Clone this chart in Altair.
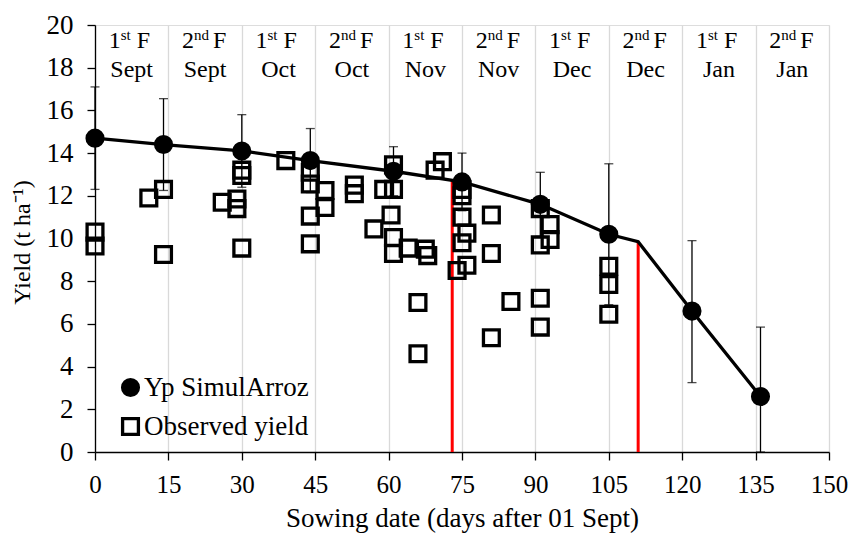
import altair as alt
import pandas as pd

FONT = "'Liberation Serif', 'Times New Roman', Times, serif"

# Simulated potential yield (Yp SimulArroz)
sim_x = [0, 14, 30, 44, 61, 75, 91, 105, 122, 136]
sim_y = [14.7, 14.4, 14.1, 13.65, 13.15, 12.65, 11.6, 10.2, 6.6, 2.6]
err_lo = [12.3, 12.25, 12.4, 12.15, 12.0, 11.3, 10.1, 6.9, 3.25, 0.0]
err_hi = [17.1, 16.55, 15.8, 15.15, 14.3, 14.0, 13.1, 13.5, 9.9, 5.85]

# Simulated line (with break point)
line_x = [0, 14, 30, 44, 61, 75, 91, 105, 111, 122, 136]
line_y = [14.7, 14.4, 14.1, 13.65, 13.15, 12.65, 11.6, 10.2, 9.85, 6.6, 2.6]

# Observed yield
obs_x = [0, 0, 11, 14, 14, 26, 29, 29, 30, 30, 30, 39,
         44, 44, 44, 44, 47, 47, 53, 53, 57, 59, 61, 61, 60.5, 61, 61,
         64, 67.5, 68, 66, 66, 69.5, 71,
         74, 76, 76, 75, 75, 75, 75,
         81, 81, 81, 85, 91, 91, 91, 91, 93, 93, 105, 105, 105]
obs_y = [10.3, 9.65, 11.9, 12.3, 9.25, 11.7, 11.85, 11.4, 13.2, 12.95, 9.55, 13.65,
         13.1, 12.55, 11.05, 9.75, 12.25, 11.45, 12.5, 12.1, 10.45, 12.3, 13.45, 12.3, 11.1, 10.05, 9.3,
         9.55, 9.5, 9.2, 7.0, 4.6, 13.2, 13.6,
         8.5, 8.75, 10.25, 12.3, 12.0, 11.0, 9.8,
         11.1, 9.3, 5.35, 7.05, 11.4, 9.7, 7.2, 5.85, 10.65, 9.95, 8.7, 7.85, 6.45]

# Red limit lines
red_x = [73, 111]
red_top = [12.75, 9.85]

# Fortnight labels
lab_mid = [7.5, 22.5, 37.5, 52.5, 67.5, 82.5, 97.5, 112.5, 127.5, 142.5]
lab_num = ["1", "2"] * 5
lab_sup = ["st", "nd"] * 5
lab_month = ["Sept", "Sept", "Oct", "Oct", "Nov", "Nov", "Dec", "Dec", "Jan", "Jan"]

series_names = ["Yp SimulArroz", "Observed yield"]

obs = pd.DataFrame({"x": obs_x, "y": obs_y, "series": series_names[1]})
sim = pd.DataFrame({"x": sim_x, "y": sim_y, "series": series_names[0]})
pts = pd.concat([obs, sim], ignore_index=True)
err = pd.DataFrame({"x": sim_x, "lo": err_lo, "hi": err_hi})
line = pd.DataFrame({"x": line_x, "y": line_y})
red = pd.DataFrame({"x": red_x, "top": red_top, "bottom": [0, 0]})
labs = pd.DataFrame({"mid": lab_mid, "num": lab_num, "sup": lab_sup, "month": lab_month})

xscale = alt.Scale(domain=[0, 150], nice=False, zero=False)
yscale = alt.Scale(domain=[0, 20], nice=False)

xaxis = alt.Axis(values=list(range(0, 151, 15)), title="Sowing date (days after 01 Sept)",
                 grid=True, gridColor="#D9D9D9", gridWidth=1.3,
                 domainColor="black", domainWidth=1.3, tickColor="black", tickWidth=1.3, tickSize=8,
                 labelFont=FONT, labelFontSize=25, labelColor="black", labelPadding=12,
                 labelFlush=False, labelOverlap=False,
                 titleFont=FONT, titleFontSize=27, titleFontWeight="normal", titleColor="black",
                 titleBaseline="alphabetic", titleY=74)
yaxis = alt.Axis(values=list(range(0, 21, 2)), title="Yield (t ha⁻¹)", grid=False,
                 domainColor="black", domainWidth=1.3, tickColor="black", tickWidth=1.3, tickSize=8,
                 labelFont=FONT, labelFontSize=27, labelColor="black", labelPadding=14,
                 labelFlush=False, labelOverlap=False,
                 titleFont=FONT, titleFontSize=24, titleFontWeight="normal", titleColor="black",
                 titleAngle=270, titleBaseline="alphabetic", titleX=-66, titleY=217)

red_layer = alt.Chart(red).mark_rule(color="#FF0000", strokeWidth=3).encode(
    x=alt.X("x:Q", scale=xscale, axis=xaxis),
    y=alt.Y("bottom:Q", scale=yscale, axis=yaxis),
    y2="top:Q",
)

err_rule = alt.Chart(err).mark_rule(color="black", strokeWidth=1.3).encode(
    x=alt.X("x:Q", scale=xscale), y=alt.Y("lo:Q", scale=yscale), y2="hi:Q")
cap_hi = alt.Chart(err).mark_tick(color="black", thickness=1.3, size=9, orient="horizontal").encode(
    x=alt.X("x:Q", scale=xscale), y=alt.Y("hi:Q", scale=yscale))
cap_lo = alt.Chart(err).mark_tick(color="black", thickness=1.3, size=9, orient="horizontal").encode(
    x=alt.X("x:Q", scale=xscale), y=alt.Y("lo:Q", scale=yscale))

line_layer = alt.Chart(line).mark_line(color="black", strokeWidth=3.3).encode(
    x=alt.X("x:Q", scale=xscale), y=alt.Y("y:Q", scale=yscale))

leg = alt.Legend(title=None, orient="none", legendX=22, legendY=349,
                 labelFont=FONT, labelFontSize=27, labelColor="black", labelOffset=0,
                 symbolSize=250, symbolStrokeWidth=3.3,
                 rowPadding=8, labelLimit=400)

pt_layer = alt.Chart(pts).mark_point(strokeWidth=3.3, size=250, opacity=1).encode(
    x=alt.X("x:Q", scale=xscale),
    y=alt.Y("y:Q", scale=yscale),
    shape=alt.Shape("series:N", scale=alt.Scale(domain=series_names, range=["circle", "square"]), legend=leg),
    fill=alt.Fill("series:N", scale=alt.Scale(domain=series_names, range=["black", "transparent"]), legend=leg),
    stroke=alt.Stroke("series:N", scale=alt.Scale(domain=series_names, range=["black", "black"]), legend=leg),
)

num_layer = alt.Chart(labs).mark_text(font=FONT, fontSize=24, color="black", align="right",
                                      baseline="alphabetic", dx=-11).encode(
    x=alt.X("mid:Q", scale=xscale), y=alt.value(23), text="num:N")
sup_layer = alt.Chart(labs).mark_text(font=FONT, fontSize=15, color="black", align="left",
                                      baseline="alphabetic", dx=-11).encode(
    x=alt.X("mid:Q", scale=xscale), y=alt.value(15), text="sup:N")
f_st = alt.Chart(labs).transform_filter(alt.datum.sup == "st").mark_text(
    font=FONT, fontSize=24, color="black", align="left", baseline="alphabetic", dx=5).encode(
    x=alt.X("mid:Q", scale=xscale), y=alt.value(23), text=alt.value("F"))
f_nd = alt.Chart(labs).transform_filter(alt.datum.sup == "nd").mark_text(
    font=FONT, fontSize=24, color="black", align="left", baseline="alphabetic", dx=8).encode(
    x=alt.X("mid:Q", scale=xscale), y=alt.value(23), text=alt.value("F"))
month_layer = alt.Chart(labs).mark_text(font=FONT, fontSize=24, color="black", align="center",
                                        baseline="alphabetic").encode(
    x=alt.X("mid:Q", scale=xscale), y=alt.value(52), text="month:N")

chart = alt.layer(red_layer, err_rule, cap_hi, cap_lo, line_layer, pt_layer,
                  num_layer, sup_layer, f_st, f_nd, month_layer).properties(
    width=734, height=427,
    autosize=alt.AutoSizeParams(type="none"),
    padding={"left": 95, "top": 25, "right": 25, "bottom": 81},
).configure_view(stroke="black", strokeWidth=1.3).configure(background="white")

chart.save("out.html", embed_options={"renderer": "svg", "actions": False})
